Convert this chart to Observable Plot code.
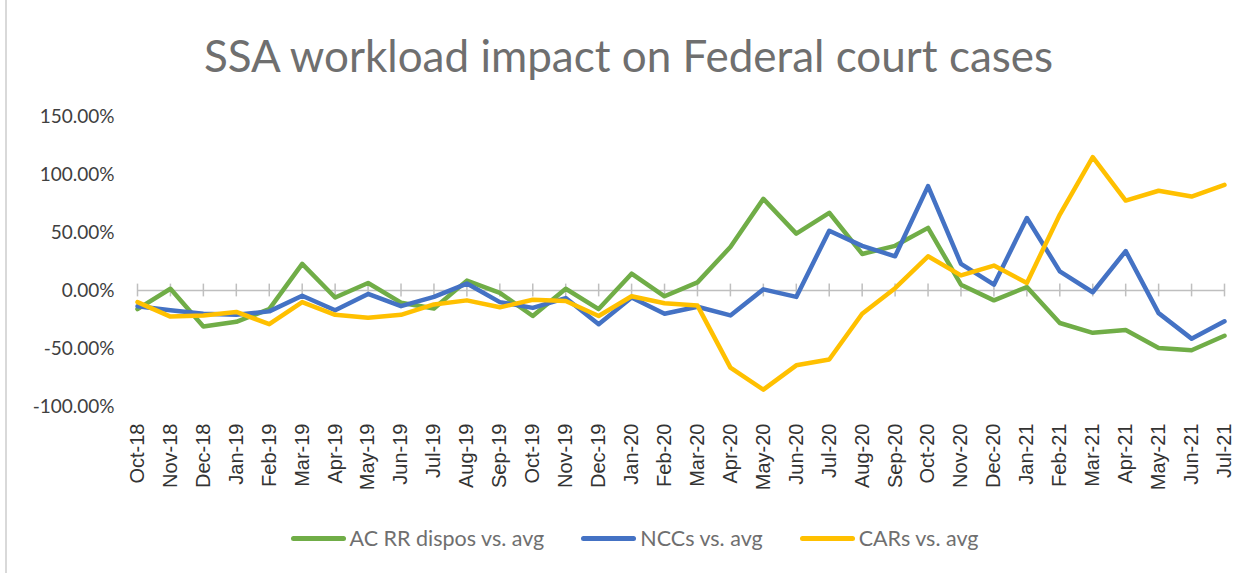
<!DOCTYPE html>
<html>
<head>
<meta charset="utf-8">
<script src="https://cdn.jsdelivr.net/npm/d3@7"></script>
<script src="https://cdn.jsdelivr.net/npm/@observablehq/plot@0.6"></script>
<style>
  html, body { margin: 0; padding: 0; background: #ffffff; }
  #wrap { position: relative; width: 1253px; height: 573px; overflow: hidden; font-family: Lato, "Open Sans", sans-serif; }
  #border { position: absolute; left: 5px; top: 0; width: 2px; height: 573px; background: #d9d9d9; }
  #title { position: absolute; left: 0; width: 1253px; top: 33px; padding-left: 4px; box-sizing: border-box; text-align: center; font-size: 44px; line-height: 44px; color: #6f6f6f; white-space: nowrap; }
  #chart { position: absolute; left: 0; top: 95px; }
  #legend { position: absolute; left: 0; width: 1253px; top: 524px; height: 28px; display: flex; justify-content: center; align-items: center; gap: 37px; padding-left: 16px; box-sizing: border-box; }
  .item { display: flex; align-items: center; font-size: 21.5px; color: #6f6f6f; white-space: nowrap; }
  .sw { display: inline-block; width: 55px; height: 5px; border-radius: 3px; margin-right: 4px; }
</style>
</head>
<body>
<div id="wrap">
  <div id="border"></div>
  <div id="title">SSA workload impact on Federal court cases</div>
  <div id="chart"></div>
  <div id="legend"></div>
</div>
<script>
const months = ["Oct-18","Nov-18","Dec-18","Jan-19","Feb-19","Mar-19","Apr-19","May-19","Jun-19","Jul-19","Aug-19","Sep-19","Oct-19","Nov-19","Dec-19","Jan-20","Feb-20","Mar-20","Apr-20","May-20","Jun-20","Jul-20","Aug-20","Sep-20","Oct-20","Nov-20","Dec-20","Jan-21","Feb-21","Mar-21","Apr-21","May-21","Jun-21","Jul-21"];
const seriesNames = ["AC RR dispos vs. avg", "NCCs vs. avg", "CARs vs. avg"];
const seriesColors = ["#70ad47", "#4472c4", "#ffc000"];
const acrrDispos = [-16, 1.5, -31, -27, -16, 23, -6, 6.5, -10.5, -15.5, 8.5, -2, -22, 1.5, -16, 14.5, -5, 7, 37.5, 79, 49, 67, 31.5, 38.5, 54, 5, -8.5, 3, -28, -36.5, -34, -49.5, -51.5, -39];
const nccs = [-13.5, -17, -20, -21, -18, -4.5, -17, -3, -13.5, -5.5, 6, -10, -15, -6.5, -29, -6, -20, -14, -21.5, 1, -5.5, 51.5, 38.5, 29.5, 90, 23, 5, 62.5, 16.5, -1.5, 34, -19.5, -41.5, -26.5];
const cars = [-10, -22.5, -21.5, -18.5, -29, -10, -21, -23.5, -21, -12, -8.5, -14.5, -8, -9, -22, -5, -11, -13, -66.5, -85.5, -64.5, -59.5, -20, 2, 29.5, 13, 21.5, 6.5, 65.5, 115, 77.5, 86, 81, 91];
const yTicks = [-100, -50, 0, 50, 100, 150];

const seriesValues = [acrrDispos, nccs, cars];
const data = seriesNames.flatMap((s, k) => months.map((m, i) => ({month: m, series: s, value: seriesValues[k][i]})));

const chart = Plot.plot({
  width: 1253,
  height: 420,
  marginLeft: 137,
  marginRight: 29,
  marginTop: 21,
  marginBottom: 109,
  style: {fontFamily: "Lato, sans-serif", fontSize: "19px", background: "transparent", overflow: "visible"},
  x: {type: "point", domain: months, padding: 0},
  y: {domain: [-100, 150]},
  color: {domain: seriesNames, range: seriesColors},
  marks: [
    Plot.axisY({ticks: yTicks, tickSize: 0, tickPadding: 23, tickFormat: d => d.toFixed(2) + "%", label: null, fontSize: 19, fill: "#404040"}),
    Plot.axisX({tickSize: 0, tickPadding: 17, tickRotate: -90, label: null, fontFamily: "Liberation Sans, Arial, sans-serif", fontSize: 20, fill: "#333333"}),
    Plot.ruleY([0], {stroke: "#bfbfbf", strokeWidth: 1.5}),
    Plot.ruleX(months, {x: d => d, y1: -5.5, y2: 5.5, stroke: "#bfbfbf", strokeWidth: 1.5}),
    Plot.line(data, {x: "month", y: "value", stroke: "series", z: "series", strokeWidth: 4.5, strokeLinejoin: "round", strokeLinecap: "round"})
  ]
});
document.getElementById("chart").appendChild(chart);

const legend = document.getElementById("legend");
seriesNames.forEach((s, k) => {
  const item = document.createElement("div");
  item.className = "item";
  const sw = document.createElement("span");
  sw.className = "sw";
  sw.style.background = seriesColors[k];
  item.appendChild(sw);
  item.appendChild(document.createTextNode(s));
  legend.appendChild(item);
});
</script>
</body>
</html>
